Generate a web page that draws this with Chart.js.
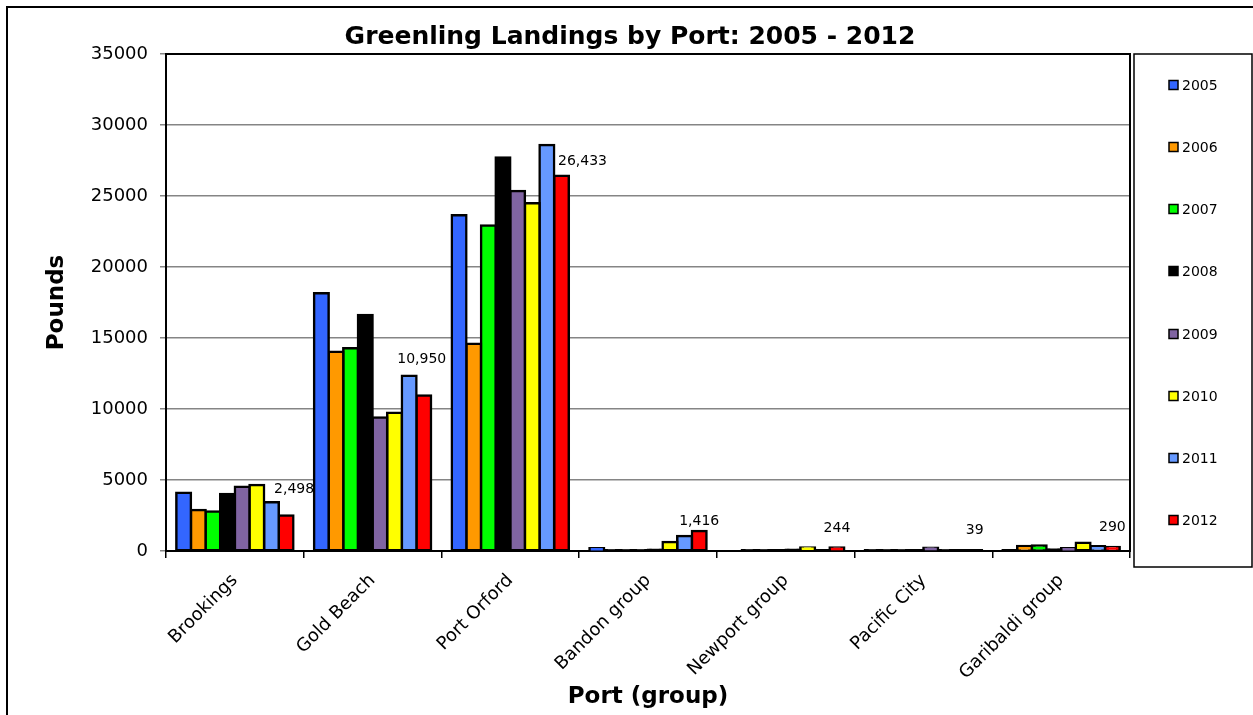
<!DOCTYPE html>
<html>
<head>
<meta charset="utf-8">
<title>Greenling Landings by Port</title>
<script src="https://cdn.jsdelivr.net/npm/chart.js@4"></script>
<style>
  html, body { margin: 0; padding: 0; background: #fff; }
</style>
</head>
<body>
<canvas id="landings" width="1253" height="715"></canvas>
<script>
// ports along the x axis
var ports = ['Brookings', 'Gold Beach', 'Port Orford', 'Bandon group', 'Newport group', 'Pacific City', 'Garibaldi group'];
var years = ['2005', '2006', '2007', '2008', '2009', '2010', '2011', '2012'];

// pounds landed at each port, one array per year
var lbs2005 = [4100, 18150, 23650, 200, 0, 30, 40];
var lbs2006 = [2890, 14030, 14600, 20, 30, 30, 350];
var lbs2007 = [2790, 14270, 22930, 10, 30, 30, 380];
var lbs2008 = [4010, 16620, 27720, 10, 40, 40, 100];
var lbs2009 = [4530, 9410, 25350, 90, 80, 230, 200];
var lbs2010 = [4650, 9740, 24490, 630, 250, 30, 580];
var lbs2011 = [3430, 12350, 28590, 1050, 60, 40, 330];
var lbs2012 = [2498, 10950, 26433, 1416, 244, 39, 290];

// y axis range
var yMax = 35000;
var yStep = 5000;

var seriesValues = [lbs2005, lbs2006, lbs2007, lbs2008, lbs2009, lbs2010, lbs2011, lbs2012];
var seriesColors = ['#3366ff', '#ff9900', '#00ff00', '#000000', '#8064a2', '#ffff00', '#6699ff', '#ff0000'];

// where the 2012 value labels sit, relative to the top of each 2012 bar
var labelNudge = [[8, -26], [-2, -36], [21, -14], [0, -10], [0, -19], [0, -20], [0, -20]];

Chart.defaults.font.family = '"DejaVu Sans", Verdana, sans-serif';
Chart.defaults.color = '#000';

// bars only a pixel or so tall show just their outline
function barFill(color) {
  return function(ctx) {
    var y = ctx.chart.scales.y;
    if (!y || ctx.raw == null) return color;
    var h = y.getPixelForValue(0) - y.getPixelForValue(ctx.raw);
    return h < 1.5 ? '#000' : color;
  };
}

// outer frame, plot frame and the boxed legend on the right
var chartFrame = {
  id: 'chartFrame',
  beforeDatasetsDraw: function(chart) {
    var ctx = chart.ctx, a = chart.chartArea;
    ctx.save();
    ctx.strokeStyle = '#000';
    ctx.lineWidth = 2;
    ctx.strokeRect(a.left, a.top, a.right - a.left, a.bottom - a.top);
    ctx.restore();
  },
  afterDraw: function(chart) {
    var ctx = chart.ctx, a = chart.chartArea;
    ctx.save();
    ctx.strokeStyle = '#000';
    ctx.lineWidth = 2;
    ctx.strokeRect(7, 7, chart.width + 10, chart.height + 10);

    var left = a.right + 4, right = chart.width - 1;
    var top = a.top, bottom = a.bottom + 16;
    ctx.lineWidth = 1.5;
    ctx.strokeRect(left, top, right - left, bottom - top);

    var slot = (a.bottom - a.top) / years.length;
    ctx.font = '14px "DejaVu Sans"';
    ctx.textBaseline = 'middle';
    ctx.textAlign = 'left';
    years.forEach(function(y, i) {
      var cy = Math.round(a.top + slot * (i + 0.5));
      ctx.fillStyle = seriesColors[i];
      ctx.fillRect(left + 35, cy - 4.5, 9, 9);
      ctx.lineWidth = 1.5;
      ctx.strokeRect(left + 35, cy - 4.5, 9, 9);
      ctx.fillStyle = '#000';
      ctx.fillText(y, left + 48, cy + 1);
    });
    ctx.restore();
  }
};

// value labels over the 2012 bars
var lastYearLabels = {
  id: 'lastYearLabels',
  afterDatasetsDraw: function(chart) {
    var ctx = chart.ctx;
    var last = chart.data.datasets.length - 1;
    var meta = chart.getDatasetMeta(last);
    ctx.save();
    ctx.font = '14px "DejaVu Sans"';
    ctx.fillStyle = '#000';
    ctx.textAlign = 'center';
    ctx.textBaseline = 'middle';
    meta.data.forEach(function(bar, i) {
      var v = chart.data.datasets[last].data[i];
      var n = labelNudge[i];
      ctx.fillText(v.toLocaleString('en-US'), bar.x + n[0], bar.y + n[1]);
    });
    ctx.restore();
  }
};

new Chart(document.getElementById('landings'), {
  type: 'bar',
  data: {
    labels: ports,
    datasets: years.map(function(y, i) {
      return {
        label: y,
        data: seriesValues[i],
        backgroundColor: barFill(seriesColors[i]),
        borderColor: '#000',
        borderWidth: 2.5,
        borderSkipped: false,
        inflateAmount: 1.25,
        categoryPercentage: 0.85,
        barPercentage: 1.0
      };
    })
  },
  options: {
    responsive: false,
    animation: false,
    layout: { padding: { left: 7, right: 0, top: 0, bottom: 0 } },
    plugins: {
      legend: { display: false },
      tooltip: { enabled: false },
      title: {
        display: true,
        text: 'Greenling Landings by Port: 2005 - 2012',
        font: { size: 25, weight: 'bold' },
        color: '#000',
        padding: { top: 22, bottom: 2 }
      }
    },
    scales: {
      x: {
        grid: {
          offset: true,
          drawOnChartArea: false,
          color: '#000',
          tickLength: 7,
          lineWidth: 1.5
        },
        border: { color: '#000', width: 2 },
        ticks: {
          font: { size: 18 },
          minRotation: 45,
          maxRotation: 45,
          padding: 12
        },
        title: {
          display: true,
          text: 'Port (group)',
          font: { size: 23, weight: 'bold' },
          padding: { top: 0, bottom: 4 }
        },
        afterFit: function(scale) { scale.height = 164; }
      },
      y: {
        min: 0,
        max: yMax,
        grid: {
          color: '#858585',
          lineWidth: 1.5,
          tickLength: 6
        },
        border: { color: '#000', width: 2 },
        ticks: {
          stepSize: yStep,
          font: { size: 18 },
          padding: 12,
          callback: function(v) { return String(v); }
        },
        title: {
          display: true,
          text: 'Pounds',
          font: { size: 23, weight: 'bold' },
          padding: { top: 36, bottom: 0 }
        },
        afterFit: function(scale) { scale.width = 159; }
      },
      // keeps room on the right for the legend box
      legendRoom: {
        position: 'right',
        display: true,
        grid: { display: false, drawTicks: false },
        border: { display: false },
        ticks: { display: false },
        afterFit: function(scale) { scale.width = 123; }
      }
    }
  },
  plugins: [chartFrame, lastYearLabels]
});
</script>
</body>
</html>
